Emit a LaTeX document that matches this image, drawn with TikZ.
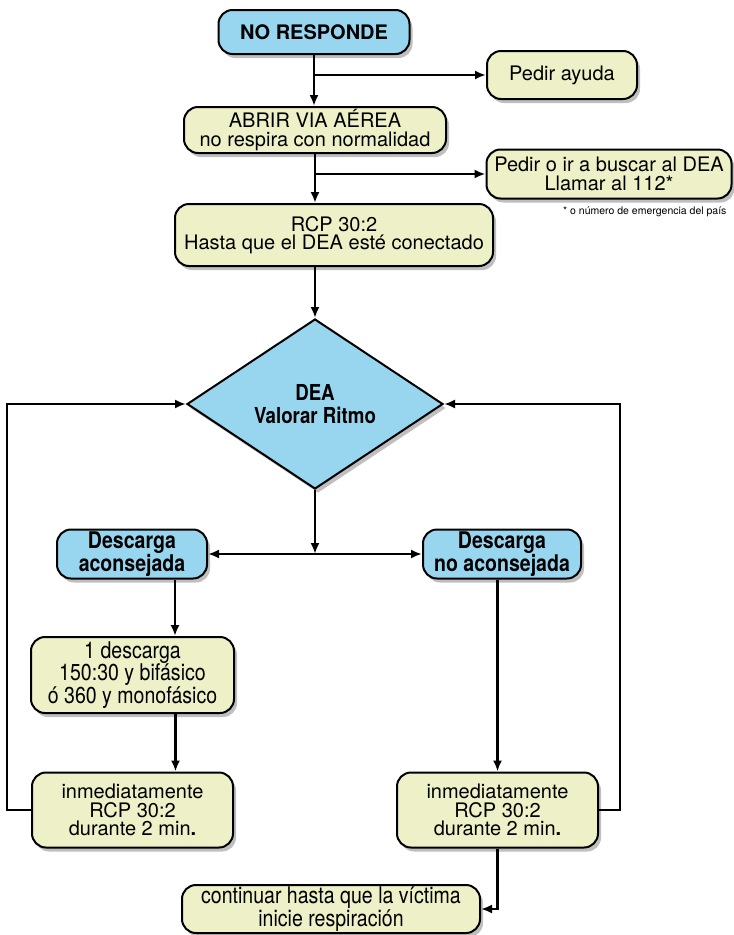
\documentclass[tikz,border=0pt]{standalone}
\usepackage{fontspec}
\setmainfont{TeX Gyre Heros}
\newfontfamily\condfont[FakeStretch=0.85]{TeX Gyre Heros}
\usepackage{tikz}
\usetikzlibrary{shapes.geometric,arrows.meta,shadows,calc}
\definecolor{boxblue}{RGB}{152,214,240}
\definecolor{boxyellow}{RGB}{238,240,200}
\newcommand{\boxfont}{\fontsize{20}{18.5}\selectfont}
\newcommand{\cndfont}{\condfont\fontsize{23}{20}\selectfont}

\tikzset{
  box/.style={draw, line width=2pt, rounded corners=14pt, fill=boxyellow, align=center,
    inner sep=0pt, font=\boxfont,
    drop shadow={shadow xshift=3pt, shadow yshift=-4pt, opacity=0.25, fill=black}},
  bluebox/.style={box, fill=boxblue},
  >={Latex[length=11pt,width=9pt]},
  arr/.style={->, line width=2.2pt}
}

\begin{document}
\begin{tikzpicture}[x=1pt,y=-1pt]
  \useasboundingbox (0,0) rectangle (734,935);
  \node[bluebox, minimum width=191pt, minimum height=44pt, font=\boxfont\bfseries] (resp) at (314,32) {NO RESPONDE};
  \node[box, minimum width=150pt, minimum height=48pt] (ayuda) at (562,75) {Pedir ayuda};
  \node[box, minimum width=262pt, minimum height=46pt] (via) at (315,130) {ABRIR VIA AÉREA\\no respira con normalidad};
  \node[box, minimum width=245pt, minimum height=49pt] (dea) at (609,174) {Pedir o ir a buscar al DEA\\Llamar al 112*};
  \node[anchor=east, font=\fontsize{10.5}{12}\selectfont] (nota) at (730,212) {* o número de emergencia del país};
  \node[box, minimum width=318pt, minimum height=62pt] (rcp) at (334,235) {RCP 30:2\\Hasta que el DEA esté conectado};
  \node[diamond, aspect=1.5, draw, line width=2pt, fill=boxblue, minimum width=256pt, minimum height=170pt,
    inner sep=0pt, align=center, font=\condfont\fontsize{22}{23}\selectfont\bfseries,
    drop shadow={shadow xshift=3pt, shadow yshift=-4pt, opacity=0.25, fill=black}] (ritmo) at (315,404) {DEA\\Valorar Ritmo};
  \node[bluebox, minimum width=150pt, minimum height=49pt, font=\cndfont\bfseries] (si) at (132,554) {Descarga\\aconsejada};
  \node[bluebox, minimum width=158pt, minimum height=49pt, font=\cndfont\bfseries] (no) at (502,554) {Descarga\\no aconsejada};
  \node[box, minimum width=203pt, minimum height=76pt, font=\cndfont] (descarga) at (132.5,675) {1 descarga\\150:30 y bifásico\\ó 360 y monofásico};
  \node[box, minimum width=201pt, minimum height=75pt] (rcpL) at (132.5,810) {inmediatamente\\RCP 30:2\\durante 2 min\textbf{.}};
  \node[box, minimum width=201pt, minimum height=75pt] (rcpR) at (497.5,810) {inmediatamente\\RCP 30:2\\durante 2 min\textbf{.}};
  \node[box, minimum width=298pt, minimum height=48pt, font=\cndfont] (seguir) at (331,909) {continuar hasta que la víctima\\inicie respiración};
  \coordinate (cruce) at (ritmo.south |- si.east);

  \draw[arr] (resp) -- (resp.south |- via.north);
  \draw[arr] (resp.south |- ayuda.west) -- (ayuda.west);
  \draw[arr] (via.south) -- (via.south |- rcp.north);
  \draw[arr] (via.south |- dea.west) -- (dea.west);
  \draw[arr] (ritmo.north |- rcp.south) -- (ritmo.north);
  \draw[arr] (ritmo.south) -- (cruce);
  \draw[arr, <->] (si.east) -- (no.west);
  \draw[arr] ([xshift=43pt]si.south) -- ([xshift=43pt]si.south |- descarga.north);
  \draw[arr] ([xshift=43pt]descarga.south) -- ([xshift=43pt]descarga.south |- rcpL.north);
  \draw[arr] (rcpR.north |- no.south) -- (rcpR.north);
  \draw[arr] (rcpL.west) -- ++(-24,0) |- (ritmo.west);
  \draw[arr] (rcpR.east) -- ++(21,0) |- (ritmo.east);
  \draw[arr] (rcpR.south) |- (seguir.east);
\end{tikzpicture}
\end{document}
